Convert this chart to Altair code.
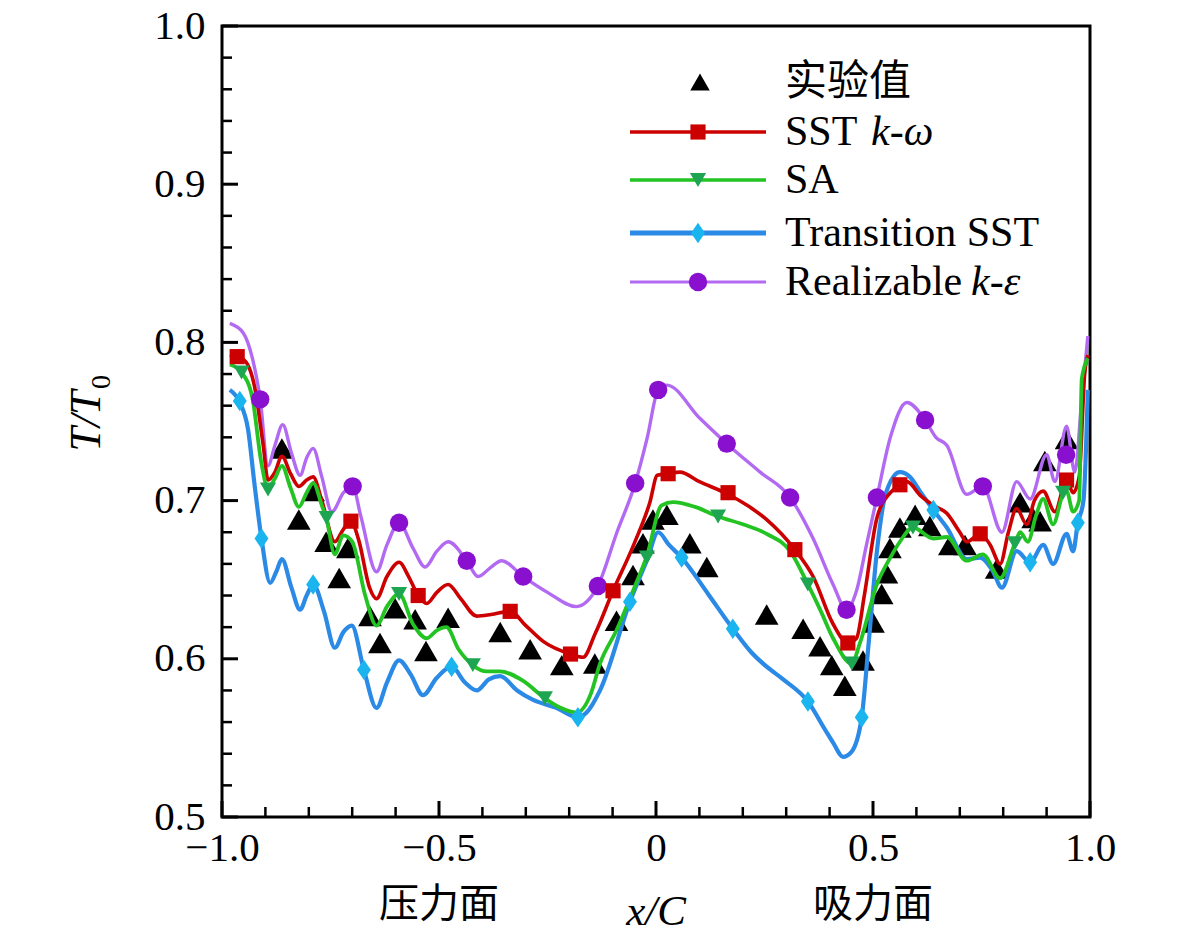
import altair as alt
import pandas as pd

# ---------------- data ----------------
exp_x = [-0.862, -0.823, -0.790, -0.760, -0.730, -0.710, -0.659, -0.636, -0.601, -0.555,
         -0.530, -0.479, -0.359, -0.290, -0.217, -0.141, -0.091, -0.053, -0.030, -0.007,
         0.025, 0.078, 0.117, 0.255, 0.339, 0.378, 0.405, 0.435, 0.477, 0.500,
         0.520, 0.531, 0.539, 0.562, 0.597, 0.631, 0.677, 0.712, 0.785, 0.839,
         0.869, 0.885, 0.896, 0.946]
exp_y = [0.733, 0.688, 0.706, 0.674, 0.651, 0.670, 0.627, 0.610, 0.632, 0.625,
         0.605, 0.626, 0.617, 0.606, 0.596, 0.597, 0.624, 0.653, 0.673, 0.688,
         0.691, 0.673, 0.658, 0.628, 0.619, 0.608, 0.596, 0.583, 0.599, 0.623,
         0.641, 0.654, 0.670, 0.683, 0.691, 0.684, 0.672, 0.672, 0.657, 0.699,
         0.689, 0.687, 0.725, 0.739]

sst_x = [-0.982, -0.950, -0.925, -0.905, -0.894, -0.878, -0.862, -0.842, -0.823, -0.805,
         -0.790, -0.770, -0.740, -0.720, -0.703, -0.685, -0.660, -0.644, -0.620, -0.592,
         -0.570, -0.548, -0.528, -0.505, -0.479, -0.450, -0.413, -0.380, -0.336, -0.300,
         -0.260, -0.197, -0.168, -0.140, -0.099, -0.050, -0.014, 0.003, 0.028, 0.055,
         0.100, 0.166, 0.210, 0.255, 0.320, 0.362, 0.408, 0.442, 0.462, 0.480,
         0.509, 0.540, 0.562, 0.578, 0.610, 0.639, 0.670, 0.700, 0.716, 0.747,
         0.770, 0.793, 0.812, 0.831, 0.854, 0.872, 0.892, 0.919, 0.946, 0.961,
         0.975, 0.988, 0.995]
sst_y = [0.792, 0.789, 0.772, 0.735, 0.713, 0.718, 0.728, 0.717, 0.709, 0.713,
         0.715, 0.700, 0.674, 0.682, 0.687, 0.675, 0.645, 0.638, 0.652, 0.661,
         0.652, 0.640, 0.635, 0.642, 0.647, 0.638, 0.627, 0.628, 0.630, 0.621,
         0.611, 0.603, 0.601, 0.616, 0.643, 0.673, 0.699, 0.716, 0.717, 0.718,
         0.712, 0.704, 0.697, 0.688, 0.669, 0.652, 0.622, 0.610, 0.613, 0.640,
         0.689, 0.705, 0.710, 0.712, 0.703, 0.697, 0.692, 0.680, 0.674, 0.679,
         0.672, 0.660, 0.680, 0.695, 0.685, 0.700, 0.706, 0.693, 0.713, 0.705,
         0.715, 0.781, 0.792]
sst_mx = [-0.965, -0.703, -0.548, -0.336, -0.197, -0.099, 0.028, 0.166, 0.320, 0.442,
          0.562, 0.747, 0.946]
sst_my = [0.791, 0.687, 0.640, 0.630, 0.603, 0.643, 0.717, 0.705, 0.669, 0.610,
          0.710, 0.679, 0.713]

sa_x = [-0.982, -0.955, -0.930, -0.910, -0.894, -0.878, -0.862, -0.842, -0.823, -0.805,
        -0.790, -0.770, -0.759, -0.740, -0.721, -0.700, -0.670, -0.644, -0.620, -0.592,
        -0.560, -0.528, -0.505, -0.483, -0.455, -0.422, -0.390, -0.359, -0.306, -0.256,
        -0.220, -0.183, -0.150, -0.129, -0.091, -0.050, -0.021, 0.013, 0.039, 0.090,
        0.143, 0.200, 0.255, 0.309, 0.350, 0.380, 0.408, 0.451, 0.470, 0.509,
        0.540, 0.562, 0.592, 0.639, 0.670, 0.716, 0.753, 0.793, 0.827, 0.839,
        0.857, 0.875, 0.892, 0.915, 0.938, 0.946, 0.961, 0.975, 0.981, 0.995]
sa_y = [0.786, 0.781, 0.765, 0.725, 0.708, 0.714, 0.722, 0.708, 0.696, 0.705,
        0.711, 0.697, 0.688, 0.666, 0.678, 0.674, 0.640, 0.621, 0.633, 0.641,
        0.622, 0.613, 0.618, 0.620, 0.606, 0.596, 0.592, 0.592, 0.586, 0.575,
        0.569, 0.566, 0.578, 0.597, 0.618, 0.645, 0.665, 0.697, 0.699, 0.696,
        0.690, 0.685, 0.679, 0.668, 0.647, 0.630, 0.613, 0.597, 0.610, 0.647,
        0.664, 0.674, 0.683, 0.676, 0.677, 0.662, 0.666, 0.651, 0.673, 0.680,
        0.674, 0.690, 0.701, 0.685, 0.704, 0.706, 0.693, 0.700, 0.777, 0.790]
sa_mx = [-0.955, -0.894, -0.759, -0.592, -0.422, -0.256, -0.021, 0.143, 0.350, 0.451,
         0.592, 0.827, 0.938]
sa_my = [0.781, 0.707, 0.689, 0.641, 0.596, 0.575, 0.664, 0.690, 0.647, 0.597,
         0.683, 0.673, 0.705]

tsst_x = [-0.982, -0.959, -0.940, -0.925, -0.909, -0.889, -0.875, -0.862, -0.840, -0.820,
          -0.805, -0.790, -0.765, -0.740, -0.720, -0.701, -0.673, -0.644, -0.620, -0.592,
          -0.565, -0.537, -0.505, -0.471, -0.440, -0.413, -0.385, -0.359, -0.320, -0.283,
          -0.230, -0.180, -0.160, -0.129, -0.060, -0.020, 0.005, 0.030, 0.059, 0.120,
          0.177, 0.220, 0.255, 0.293, 0.350, 0.390, 0.408, 0.431, 0.450, 0.474,
          0.490, 0.509, 0.530, 0.562, 0.585, 0.608, 0.639, 0.670, 0.716, 0.747,
          0.775, 0.797, 0.831, 0.862, 0.892, 0.915, 0.946, 0.961, 0.972, 0.985,
          0.995]
tsst_y = [0.770, 0.762, 0.745, 0.710, 0.676, 0.648, 0.655, 0.663, 0.645, 0.631,
          0.640, 0.647, 0.630, 0.607, 0.617, 0.621, 0.593, 0.569, 0.585, 0.599,
          0.590, 0.577, 0.588, 0.595, 0.585, 0.580, 0.587, 0.589, 0.580, 0.574,
          0.569, 0.563, 0.566, 0.580, 0.636, 0.663, 0.680, 0.672, 0.664, 0.641,
          0.619, 0.604, 0.595, 0.587, 0.573, 0.555, 0.547, 0.538, 0.541, 0.563,
          0.610, 0.668, 0.705, 0.718, 0.715, 0.706, 0.694, 0.683, 0.663, 0.664,
          0.656, 0.645, 0.668, 0.661, 0.672, 0.660, 0.679, 0.668, 0.686, 0.700,
          0.770]
tsst_mx = [-0.959, -0.909, -0.790, -0.673, -0.471, -0.180, -0.060, 0.059, 0.177, 0.350,
           0.474, 0.639, 0.862, 0.972]
tsst_my = [0.763, 0.676, 0.647, 0.593, 0.595, 0.563, 0.636, 0.664, 0.619, 0.573,
           0.563, 0.694, 0.661, 0.686]

rke_x = [-0.982, -0.951, -0.930, -0.912, -0.894, -0.878, -0.860, -0.840, -0.820, -0.805,
         -0.790, -0.770, -0.747, -0.720, -0.699, -0.680, -0.644, -0.620, -0.592, -0.560,
         -0.532, -0.505, -0.479, -0.436, -0.410, -0.380, -0.356, -0.306, -0.250, -0.183,
         -0.160, -0.134, -0.090, -0.048, -0.020, 0.005, 0.025, 0.101, 0.163, 0.240,
         0.309, 0.362, 0.408, 0.439, 0.462, 0.485, 0.509, 0.540, 0.578, 0.620,
         0.645, 0.670, 0.716, 0.753, 0.797, 0.831, 0.862, 0.900, 0.919, 0.946,
         0.965, 0.980, 0.995]
rke_y = [0.812, 0.806, 0.790, 0.764, 0.722, 0.735, 0.748, 0.730, 0.716, 0.727,
         0.733, 0.715, 0.693, 0.705, 0.709, 0.690, 0.655, 0.672, 0.686, 0.670,
         0.658, 0.668, 0.674, 0.662, 0.652, 0.658, 0.662, 0.652, 0.642, 0.633,
         0.636, 0.646, 0.680, 0.711, 0.740, 0.770, 0.773, 0.752, 0.736, 0.718,
         0.702, 0.676, 0.647, 0.631, 0.643, 0.672, 0.702, 0.740, 0.762, 0.751,
         0.740, 0.735, 0.704, 0.709, 0.680, 0.712, 0.701, 0.729, 0.712, 0.747,
         0.718, 0.760, 0.804]
rke_mx = [-0.912, -0.699, -0.592, -0.436, -0.306, -0.134, -0.048, 0.005, 0.163, 0.309,
          0.439, 0.509, 0.620, 0.753, 0.945]
rke_my = [0.764, 0.709, 0.686, 0.662, 0.652, 0.646, 0.711, 0.770, 0.736, 0.702,
          0.631, 0.702, 0.751, 0.709, 0.729]

X_MAJOR = [-1.0, -0.5, 0.0, 0.5, 1.0]
X_MINOR = [-0.9, -0.8, -0.7, -0.6, -0.4, -0.3, -0.2, -0.1,
           0.1, 0.2, 0.3, 0.4, 0.6, 0.7, 0.8, 0.9]
Y_MAJOR = [0.5, 0.6, 0.7, 0.8, 0.9, 1.0]
Y_MINOR = [0.52, 0.54, 0.56, 0.58, 0.62, 0.64, 0.66, 0.68, 0.72, 0.74, 0.76, 0.78,
           0.82, 0.84, 0.86, 0.88, 0.92, 0.94, 0.96, 0.98]

SIDE_LABELS = ["压力面", "吸力面"]
SIDE_X = [-0.5, 0.5]

# ---------------- styling ----------------
W, H = 868, 791
SERIF = "Liberation Serif"
CJK = "Noto Sans CJK SC"
RED, GREEN_L, GREEN_M = "#cc0000", "#22c322", "#1ea552"
BLUE_L, BLUE_M = "#2a8ae6", "#1ab4ee"
PURP_L, PURP_M = "#b36af2", "#8a10cf"
DIAMOND = "M0,-1L0.68,0L0,1L-0.68,0Z"

xscale = alt.Scale(domain=[-1, 1], nice=False, zero=False)
yscale = alt.Scale(domain=[0.5, 1.0], nice=False, zero=False)
xaxis = alt.Axis(values=X_MAJOR, ticks=False, domain=False, grid=False, title=None,
                 labelFont=SERIF, labelFontSize=41, labelColor="black", labelPadding=11,
                 labelFlush=False, labelOverlap=False,
                 labelExpr="datum.value == 0 ? '0' : replace(format(datum.value, '.1f'), '-', '\u2212')")
yaxis = alt.Axis(values=Y_MAJOR, ticks=False, domain=False, grid=False, title=None,
                 labelFont=SERIF, labelFontSize=41, labelColor="black", labelPadding=17,
                 labelFlush=False, labelOverlap=False, format=".1f")


def X(f="x"):
    return alt.X(f"{f}:Q", scale=xscale, axis=xaxis)


def Y(f="y"):
    return alt.Y(f"{f}:Q", scale=yscale, axis=yaxis)


def df(xs, ys):
    return pd.DataFrame({"x": xs, "y": ys})


layers = []

# tick marks (inward)
layers.append(alt.Chart(pd.DataFrame({"y": Y_MAJOR})).mark_rule(color="black", strokeWidth=3)
              .encode(y=Y(), x=alt.value(0), x2=alt.value(16)))
layers.append(alt.Chart(pd.DataFrame({"y": Y_MINOR})).mark_rule(color="black", strokeWidth=2.5)
              .encode(y=Y(), x=alt.value(0), x2=alt.value(10)))
layers.append(alt.Chart(pd.DataFrame({"x": X_MAJOR})).mark_rule(color="black", strokeWidth=3)
              .encode(x=X(), y=alt.value(H), y2=alt.value(H - 16)))
layers.append(alt.Chart(pd.DataFrame({"x": X_MINOR})).mark_rule(color="black", strokeWidth=2.5)
              .encode(x=X(), y=alt.value(H), y2=alt.value(H - 10)))

# experimental points
layers.append(alt.Chart(df(exp_x, exp_y)).mark_point(shape="triangle-up", filled=True, size=560,
                                                      color="black", opacity=1)
              .encode(x=X(), y=Y()))

# lines
series = [
    (rke_x, rke_y, PURP_L, 3.4),
    (tsst_x, tsst_y, BLUE_L, 4.2),
    (sst_x, sst_y, RED, 3.6),
    (sa_x, sa_y, GREEN_L, 3.8),
]
for xs, ys, col, sw in series:
    layers.append(alt.Chart(df(xs, ys)).mark_line(color=col, strokeWidth=sw, interpolate="monotone")
                  .encode(x=X(), y=Y()))

# line markers
markers = [
    (rke_mx, rke_my, "circle", PURP_M, 340),
    (tsst_mx, tsst_my, DIAMOND, BLUE_M, 420),
    (sst_mx, sst_my, "square", RED, 230),
    (sa_mx, sa_my, "triangle-down", GREEN_M, 260),
]
for xs, ys, shp, col, sz in markers:
    layers.append(alt.Chart(df(xs, ys)).mark_point(shape=shp, filled=True, size=sz, color=col, opacity=1)
                  .encode(x=X(), y=Y()))

# legend (drawn as decoration inside the plot)
one = pd.DataFrame({"d": [0]})
LX1, LX2, LM, LT = 408, 544, 476, 563
rows = [56, 106, 154, 207, 256]
layers.append(alt.Chart(one).mark_point(shape="triangle-up", filled=True, size=380, color="black", opacity=1)
              .encode(x=alt.value(LM + 2), y=alt.value(rows[0])))
layers.append(alt.Chart(one).mark_text(text="实验值", font=CJK, fontSize=42, align="left", baseline="middle",
                                       color="black")
              .encode(x=alt.value(LT), y=alt.value(rows[0])))
leg = [
    (RED, 3.6, "square", RED, 230, rows[1]),
    (GREEN_L, 3.6, "triangle-down", GREEN_M, 260, rows[2]),
    (BLUE_L, 5, DIAMOND, BLUE_M, 420, rows[3]),
    (PURP_L, 3.2, "circle", PURP_M, 340, rows[4]),
]
for lc, lw, shp, mc, sz, ry in leg:
    layers.append(alt.Chart(one).mark_rule(color=lc, strokeWidth=lw)
                  .encode(x=alt.value(LX1), x2=alt.value(LX2), y=alt.value(ry)))
    layers.append(alt.Chart(one).mark_point(shape=shp, filled=True, size=sz, color=mc, opacity=1)
                  .encode(x=alt.value(LM), y=alt.value(ry)))

leg_text = [
    ("SST ", "normal", LT, rows[1]), ("k-ω", "italic", LT + 86, rows[1]),
    ("SA", "normal", LT, rows[2]),
    ("Transition SST", "normal", LT, rows[3]),
    ("Realizable ", "normal", LT, rows[4]), ("k-ε", "italic", LT + 186, rows[4]),
]
for t, st, tx, ty in leg_text:
    layers.append(alt.Chart(one).mark_text(text=t, font=SERIF, fontSize=42, fontStyle=st, align="left",
                                           baseline="middle", color="black")
                  .encode(x=alt.value(tx), y=alt.value(ty)))

# axis titles and side labels
layers.append(alt.Chart(pd.DataFrame({"x": SIDE_X, "t": SIDE_LABELS}))
              .mark_text(font=CJK, fontSize=40, baseline="middle", align="center", color="black")
              .encode(x=X(), y=alt.value(879), text="t:N"))
layers.append(alt.Chart(pd.DataFrame({"x": [0.0]})).mark_text(text="x/C", font=SERIF, fontSize=43,
                                                              fontStyle="italic", baseline="middle",
                                                              align="center", color="black")
              .encode(x=X(), y=alt.value(886)))
layers.append(alt.Chart(one).mark_text(text="T/T", font=SERIF, fontSize=44, fontStyle="italic", angle=270,
                                       baseline="alphabetic", align="center", color="black")
              .encode(x=alt.value(-122), y=alt.value(395)))
layers.append(alt.Chart(one).mark_text(text="0", font=SERIF, fontSize=28, angle=270,
                                       baseline="alphabetic", align="center", color="black")
              .encode(x=alt.value(-112), y=alt.value(356)))

chart = (alt.layer(*layers)
         .properties(width=W, height=H, autosize=alt.AutoSizeParams(type="none"),
                     padding={"left": 214, "top": 18, "right": 70, "bottom": 126},
                     background="white")
         .configure_view(stroke="black", strokeWidth=3))

chart.save("out.html", embed_options={"renderer": "svg", "actions": False})
